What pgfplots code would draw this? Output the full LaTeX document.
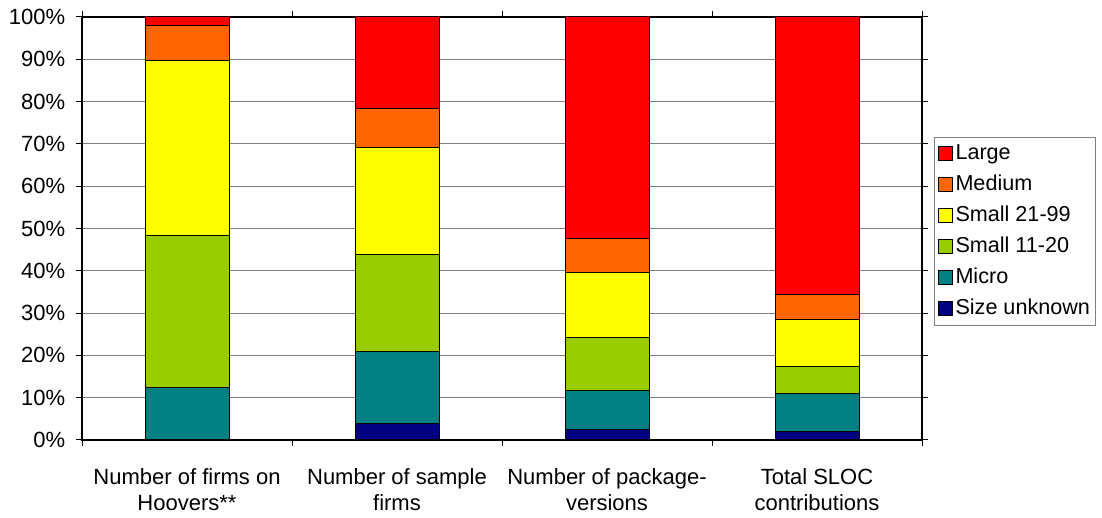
\documentclass[border=0pt]{standalone}
\usepackage{fontspec}
\setmainfont{Liberation Sans}
\usepackage{pgfplots}
\pgfplotsset{compat=1.18}
\definecolor{cLarge}{HTML}{FF0000}
\definecolor{cMedium}{HTML}{FF6600}
\definecolor{cSmallA}{HTML}{FFFF00}
\definecolor{cSmallB}{HTML}{99CC00}
\definecolor{cMicro}{HTML}{008080}
\definecolor{cUnknown}{HTML}{000080}
\begin{document}
\fontsize{11}{12.85}\selectfont
\begin{tikzpicture}
\begin{axis}[
  scale only axis,
  width=420pt, height=211.5pt,
  ybar stacked,
  bar width=42pt,
  xmin=-0.5, xmax=3.5,
  ymin=0, ymax=100,
  ytick={0,10,...,100},
  yticklabel={\pgfmathprintnumber{\tick}\%},
  /pgf/number format/assume math mode=true,
  xtick={-0.5,0.5,1.5,2.5,3.5},
  x tick label as interval,
  xticklabels={{Number of firms on\\Hoovers**},{Number of sample\\firms},{Number of package-\\versions},{Total SLOC\\contributions}},
  x tick label style={align=center, font=\fontsize{11}{12.85}\selectfont, yshift=-7.5pt},
  y tick label style={font=\fontsize{11}{12}\selectfont, xshift=-1.5pt},
  tick align=outside,
  major tick length=3pt,
  tick style={black, line width=0.5pt},
  ymajorgrids,
  major grid style={gray, line width=0.5pt},
  axis line style={black, line width=0.6pt},
  every axis plot/.append style={draw=black, line width=0.5pt},
  legend style={at={(axis description cs:1,1)}, anchor=north west, xshift=6pt, yshift=-60pt,
    draw=gray, line width=0.5pt, font=\fontsize{10.8}{12}\selectfont,
    row sep=3pt, inner xsep=1.5pt, inner ysep=2pt,
    nodes={inner xsep=1.5pt, inner ysep=1pt, text height=8pt, text depth=2.5pt}},
  legend cell align=left,
  reverse legend,
  legend image code/.code={\draw[#1, draw=black, line width=0.5pt] (0pt,-3.5pt) rectangle (7pt,3.5pt);},
]
\addplot[fill=cUnknown] coordinates {(0,0) (1,3.8) (2,2.5) (3,2.0)};
\addplot[fill=cMicro] coordinates {(0,12.5) (1,17.2) (2,9.1) (3,9.0)};
\addplot[fill=cSmallB] coordinates {(0,35.8) (1,22.9) (2,12.7) (3,6.3)};
\addplot[fill=cSmallA] coordinates {(0,41.4) (1,25.2) (2,15.3) (3,11.1)};
\addplot[fill=cMedium] coordinates {(0,8.2) (1,9.2) (2,8.0) (3,6.0)};
\addplot[fill=cLarge] coordinates {(0,2.1) (1,21.7) (2,52.4) (3,65.6)};
\legend{Size unknown,Micro,Small 11-20,Small 21-99,Medium,Large}
\end{axis}
\path (current axis.south west) ++(-41pt,-37pt) rectangle ++(551pt,257pt);
\end{tikzpicture}
\end{document}
